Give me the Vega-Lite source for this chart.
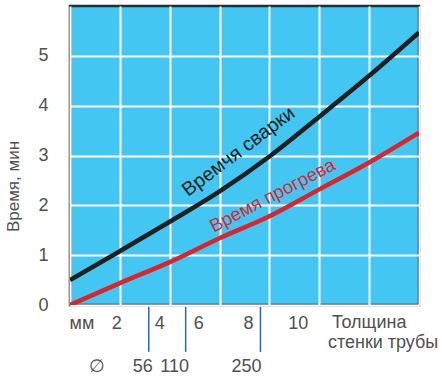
{
  "$schema": "https://vega.github.io/schema/vega-lite/v6.json",
  "width": 349,
  "height": 299,
  "autosize": "none",
  "padding": {"left": 70, "top": 6, "right": 23, "bottom": 73},
  "background": "white",
  "config": {
    "view": {"fill": "#44c6f3", "stroke": "#2b2b2b", "strokeWidth": 2.5},
    "axis": {"gridColor": "white", "gridWidth": 2, "gridOpacity": 1, "domain": false, "ticks": false},
    "font": "Liberation Sans"
  },
  "datasets": {
    "curves": [
      {"series": "Время сварки", "t": 0, "min": 0.5},
      {"series": "Время сварки", "t": 2, "min": 1.08},
      {"series": "Время сварки", "t": 4, "min": 1.67},
      {"series": "Время сварки", "t": 6, "min": 2.28},
      {"series": "Время сварки", "t": 8, "min": 2.98},
      {"series": "Время сварки", "t": 10, "min": 3.78},
      {"series": "Время сварки", "t": 12, "min": 4.6},
      {"series": "Время сварки", "t": 14, "min": 5.47},
      {"series": "Время прогрева", "t": 0, "min": 0},
      {"series": "Время прогрева", "t": 2, "min": 0.44},
      {"series": "Время прогрева", "t": 4, "min": 0.86},
      {"series": "Время прогрева", "t": 6, "min": 1.34},
      {"series": "Время прогрева", "t": 8, "min": 1.78},
      {"series": "Время прогрева", "t": 10, "min": 2.32},
      {"series": "Время прогрева", "t": 12, "min": 2.86},
      {"series": "Время прогрева", "t": 14, "min": 3.46}
    ],
    "curveLabels": [
      {"series": "Время сварки", "label": "Времчя сварки", "t": 6.76, "min": 3.08, "angle": -37, "size": 19.5},
      {"series": "Время прогрева", "label": "Время прогрева", "t": 8.12, "min": 2.2, "angle": -27.5, "size": 18.5}
    ],
    "xlabels": [
      {"label": "мм", "t": 0.48, "min": -0.48},
      {"label": "2", "t": 1.88, "min": -0.48},
      {"label": "4", "t": 3.6, "min": -0.48},
      {"label": "6", "t": 5.16, "min": -0.48},
      {"label": "8", "t": 7.16, "min": -0.48},
      {"label": "10", "t": 9.16, "min": -0.48},
      {"label": "Толщина", "t": 12.0, "min": -0.46},
      {"label": "стенки трубы", "t": 12.56, "min": -0.86},
      {"label": "∅", "t": 1.08, "min": -1.34},
      {"label": "56", "t": 2.92, "min": -1.34},
      {"label": "110", "t": 4.2, "min": -1.34},
      {"label": "250", "t": 7.08, "min": -1.34}
    ],
    "diamTicks": [
      {"t": 3.16, "top": -0.04, "bottom": -0.94},
      {"t": 4.64, "top": -0.04, "bottom": -0.94},
      {"t": 7.64, "top": -0.04, "bottom": -0.94}
    ]
  },
  "layer": [
    {
      "data": {"name": "curves"},
      "mark": {"type": "line", "strokeWidth": 4.5, "interpolate": "monotone", "clip": true},
      "encoding": {
        "x": {"field": "t", "type": "quantitative", "scale": {"domain": [0, 14], "nice": false},
              "axis": {"values": [0, 2, 4, 6, 8, 10, 12, 14], "labels": false, "title": null, "grid": true}},
        "y": {"field": "min", "type": "quantitative", "scale": {"domain": [0, 6], "nice": false},
              "axis": {"values": [0, 1, 2, 3, 4, 5], "grid": true, "labelFontSize": 18, "labelColor": "#505050",
                       "labelPadding": 22, "labelFont": "Liberation Sans",
                       "title": "Время, мин", "titleFontSize": 17, "titleFontWeight": "normal", "titleColor": "#505050",
                       "titleX": -57, "titleY": 180, "titleAngle": -90, "titleAlign": "center", "titleBaseline": "middle"}},
        "color": {"field": "series", "type": "nominal",
                  "scale": {"domain": ["Время сварки", "Время прогрева"], "range": ["#231f20", "#d7262e"]},
                  "legend": null}
      }
    },
    {
      "data": {"name": "curveLabels"},
      "mark": {"type": "text", "baseline": "middle", "align": "center"},
      "encoding": {
        "x": {"field": "t", "type": "quantitative"},
        "y": {"field": "min", "type": "quantitative"},
        "text": {"field": "label"},
        "size": {"field": "size", "type": "quantitative", "scale": null},
        "angle": {"field": "angle", "type": "quantitative", "scale": null},
        "color": {"field": "series", "type": "nominal", "legend": null}
      }
    },
    {
      "data": {"name": "xlabels"},
      "mark": {"type": "text", "fontSize": 18, "baseline": "alphabetic", "align": "center", "color": "#505050"},
      "encoding": {
        "x": {"field": "t", "type": "quantitative"},
        "y": {"field": "min", "type": "quantitative"},
        "text": {"field": "label"}
      }
    },
    {
      "data": {"name": "diamTicks"},
      "mark": {"type": "rule", "color": "#2a68b3", "strokeWidth": 1.5},
      "encoding": {
        "x": {"field": "t", "type": "quantitative"},
        "y": {"field": "top", "type": "quantitative"},
        "y2": {"field": "bottom"}
      }
    }
  ]
}
